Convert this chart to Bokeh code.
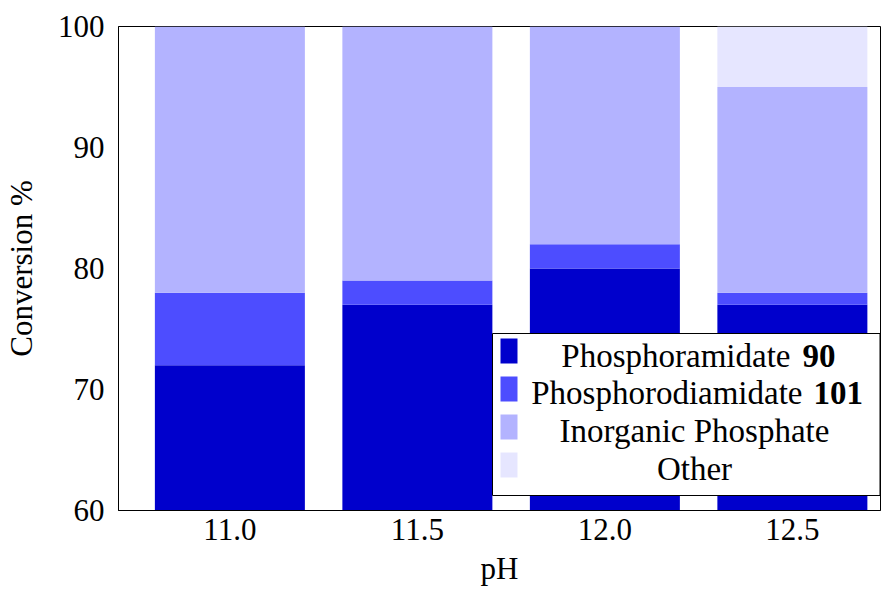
from bokeh.plotting import figure
from bokeh.models import (Range1d, FixedTicker, BoxAnnotation, Label,
                          NumeralTickFormatter, ColumnDataSource)
from bokeh.embed import file_html
from bokeh.resources import INLINE

# ---- data ----
ph = [11.0, 11.5, 12.0, 12.5]
phosphoramidate = [72, 77, 80, 77]
phosphorodiamidate = [6, 2, 2, 1]
inorganic = [22, 21, 18, 17]
other = [0, 0, 0, 5]
series_names = ["Phosphoramidate", "Phosphorodiamidate", "Inorganic Phosphate", "Other"]
series_bold = ["90", "101", "", ""]
colors = ["#0000CC", "#4D4DFF", "#B3B3FF", "#E6E6FF"]
y_ticks = [60, 70, 80, 90, 100]
x_title = "pH"
y_title = "Conversion %"

FONT = "Liberation Serif"
FS = "31px"
LFS = "33px"

X0, X1 = 10.703, 12.735
Y0, Y1 = 60, 100

source = ColumnDataSource(dict(ph=ph, a=phosphoramidate, b=phosphorodiamidate,
                               c=inorganic, d=other))

p = figure(width=885, height=588, output_backend="svg", toolbar_location=None,
           x_range=Range1d(X0, X1), y_range=Range1d(Y0, Y1),
           min_border_left=118, min_border_right=5, min_border_top=26,
           min_border_bottom=78)

p.vbar_stack(["a", "b", "c", "d"], x="ph", width=0.4, source=source,
             fill_color=colors, line_color=None)

p.xgrid.visible = False
p.ygrid.visible = False
p.outline_line_color = "black"
p.outline_line_width = 1
p.outline_line_alpha = 1

for ax in (p.xaxis[0], p.yaxis[0]):
    ax.major_tick_in = 0
    ax.major_tick_out = 0
    ax.minor_tick_in = 0
    ax.minor_tick_out = 0
    ax.axis_line_color = "black"
    ax.major_label_text_font = FONT
    ax.major_label_text_font_size = FS
    ax.major_label_text_color = "black"
    ax.axis_label_text_font = FONT
    ax.axis_label_text_font_size = FS
    ax.axis_label_text_font_style = "normal"
    ax.axis_label_text_color = "black"

p.xaxis.ticker = FixedTicker(ticks=ph)
p.xaxis.formatter = NumeralTickFormatter(format="0.0")
p.xaxis.major_label_standoff = 8
p.xaxis.axis_label = x_title
p.xaxis.axis_label_standoff = 8

p.yaxis.ticker = FixedTicker(ticks=y_ticks)
p.yaxis.axis_label = y_title
p.yaxis.major_label_standoff = 14
p.yaxis.axis_label_standoff = 16

# ---- layout helpers (frame pixels -> data units) ----
FL, FR, FT, FB = 118, 880, 26, 510
def dx(px):
    return X0 + (px - FL) * (X1 - X0) / (FR - FL)
def dy(py):
    return Y1 - (py - FT) * (Y1 - Y0) / (FB - FT)

TXT_SHIFT = 12  # observed baseline offset of Label text

# ---- custom legend ----
p.add_layout(BoxAnnotation(left=dx(492), right=dx(879.5), top=dy(333), bottom=dy(495),
                           fill_color="white", fill_alpha=1, line_color="black",
                           line_width=1, line_alpha=1))

sw_tops = [338, 376, 414, 452]
baselines = [367, 404, 442, 480]
splits = [(790, 802), (802, 813), None, None]
for i in range(4):
    p.add_layout(BoxAnnotation(left=dx(500), right=dx(517), top=dy(sw_tops[i]),
                               bottom=dy(sw_tops[i] + 25), fill_color=colors[i],
                               fill_alpha=1, line_color=None))
    by = dy(baselines[i] - TXT_SHIFT)
    if splits[i]:
        r, l = splits[i]
        p.add_layout(Label(x=dx(r), y=by, text=series_names[i],
                           text_align="right", text_baseline="alphabetic",
                           text_font=FONT, text_font_size=LFS, text_color="black"))
        p.add_layout(Label(x=dx(l), y=by, text=series_bold[i],
                           text_align="left", text_baseline="alphabetic",
                           text_font=FONT, text_font_size=LFS, text_color="black",
                           text_font_style="bold"))
    else:
        p.add_layout(Label(x=dx(694), y=by, text=series_names[i],
                           text_align="center", text_baseline="alphabetic",
                           text_font=FONT, text_font_size=LFS, text_color="black"))

open("out.html", "w").write(file_html(p, INLINE))
